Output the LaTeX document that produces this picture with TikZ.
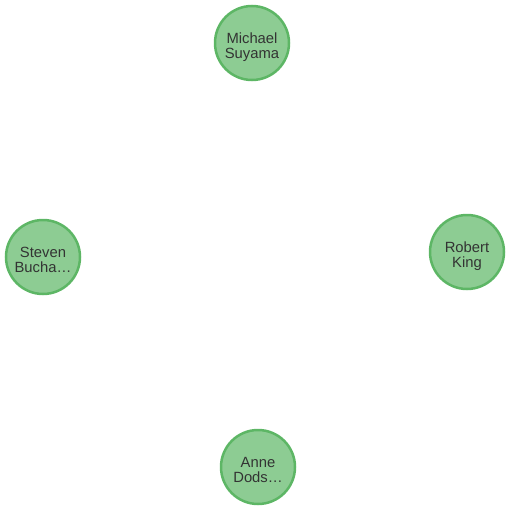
\documentclass[tikz,border=0pt]{standalone}
\usepackage{fontspec}
\setmainfont{Liberation Sans}
\definecolor{nfill}{HTML}{8DCC93}
\definecolor{nline}{HTML}{5DB665}
\definecolor{ntext}{HTML}{333333}
\newcommand\twolines[2]{\raisebox{-5pt}[\height][\depth]{\begin{tabular}{@{}c@{}}#1\\#2\end{tabular}}}
\begin{document}
\begin{tikzpicture}[x=1pt,y=-1pt,
  person/.style={circle,draw=nline,fill=nfill,line width=2.5pt,minimum size=74pt,inner sep=0pt,
    text=ntext,font=\fontsize{14.8}{14.5}\selectfont}]
\useasboundingbox (0,0) rectangle (511,511);
\node[person] (michael) at (252,43) {\twolines{Michael}{Suyama}};
\node[person] (robert) at (467,252) {\twolines{Robert}{King}};
\node[person] (steven) at (43,257) {\twolines{Steven}{Bucha\ldots}};
\node[person] (anne) at (258,467) {\twolines{Anne}{Dods\ldots}};
\end{tikzpicture}
\end{document}
